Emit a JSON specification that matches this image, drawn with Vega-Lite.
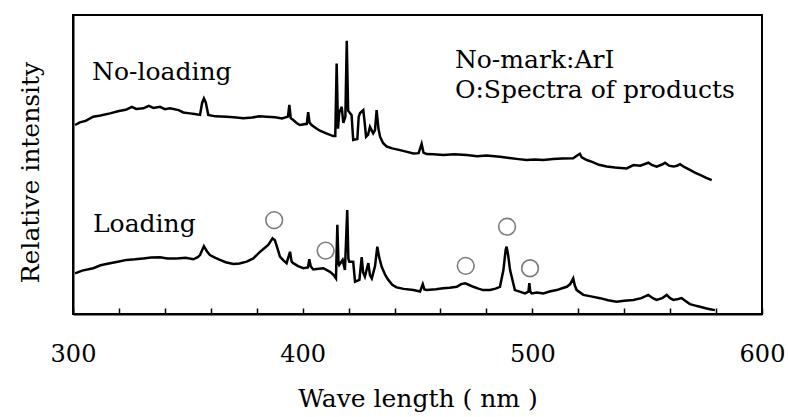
{
  "$schema": "https://vega.github.io/schema/vega-lite/v6.json",
  "width": 689,
  "height": 299,
  "autosize": "none",
  "padding": {"left": 73, "top": 15, "right": 26, "bottom": 103},
  "view": {"stroke": "black", "strokeWidth": 2},
  "datasets": {
    "spectra": [
      {"s":"No-loading","x":300.9,"y":63.2},{"s":"No-loading","x":303.0,"y":64.1},{"s":"No-loading","x":305.5,"y":64.6},{"s":"No-loading","x":308.8,"y":66.0},{"s":"No-loading","x":312.0,"y":66.4},{"s":"No-loading","x":316.1,"y":67.1},{"s":"No-loading","x":320.0,"y":67.9},{"s":"No-loading","x":323.0,"y":68.3},{"s":"No-loading","x":325.6,"y":69.3},{"s":"No-loading","x":327.5,"y":68.6},{"s":"No-loading","x":330.6,"y":68.8},{"s":"No-loading","x":333.0,"y":69.6},{"s":"No-loading","x":335.0,"y":68.9},{"s":"No-loading","x":337.9,"y":69.3},{"s":"No-loading","x":340.0,"y":68.5},{"s":"No-loading","x":342.2,"y":68.8},{"s":"No-loading","x":346.0,"y":68.2},{"s":"No-loading","x":348.0,"y":67.4},{"s":"No-loading","x":350.9,"y":67.1},{"s":"No-loading","x":353.0,"y":66.9},{"s":"No-loading","x":355.3,"y":66.6},{"s":"No-loading","x":356.2,"y":70.5},{"s":"No-loading","x":357.0,"y":72.1},{"s":"No-loading","x":357.8,"y":70.8},{"s":"No-loading","x":358.9,"y":66.6},{"s":"No-loading","x":362.0,"y":66.1},{"s":"No-loading","x":366.9,"y":66.0},{"s":"No-loading","x":370.0,"y":65.8},{"s":"No-loading","x":374.1,"y":65.5},{"s":"No-loading","x":378.0,"y":65.7},{"s":"No-loading","x":381.0,"y":66.1},{"s":"No-loading","x":384.3,"y":66.0},{"s":"No-loading","x":388.0,"y":65.8},{"s":"No-loading","x":391.0,"y":65.4},{"s":"No-loading","x":393.6,"y":66.0},{"s":"No-loading","x":394.2,"y":69.9},{"s":"No-loading","x":394.8,"y":65.5},{"s":"No-loading","x":395.9,"y":64.9},{"s":"No-loading","x":397.5,"y":63.8},{"s":"No-loading","x":398.8,"y":63.2},{"s":"No-loading","x":401.8,"y":63.6},{"s":"No-loading","x":402.4,"y":67.5},{"s":"No-loading","x":403.0,"y":64.0},{"s":"No-loading","x":403.9,"y":63.2},{"s":"No-loading","x":405.5,"y":62.3},{"s":"No-loading","x":407.5,"y":61.3},{"s":"No-loading","x":410.0,"y":60.5},{"s":"No-loading","x":413.3,"y":59.5},{"s":"No-loading","x":414.2,"y":59.5},{"s":"No-loading","x":414.8,"y":83.8},{"s":"No-loading","x":415.4,"y":62.0},{"s":"No-loading","x":415.9,"y":67.2},{"s":"No-loading","x":417.0,"y":69.3},{"s":"No-loading","x":417.7,"y":63.9},{"s":"No-loading","x":418.6,"y":66.0},{"s":"No-loading","x":419.2,"y":91.4},{"s":"No-loading","x":419.8,"y":68.0},{"s":"No-loading","x":420.6,"y":67.2},{"s":"No-loading","x":421.3,"y":66.5},{"s":"No-loading","x":422.0,"y":58.2},{"s":"No-loading","x":423.8,"y":58.5},{"s":"No-loading","x":424.4,"y":66.0},{"s":"No-loading","x":425.0,"y":67.2},{"s":"No-loading","x":426.4,"y":68.2},{"s":"No-loading","x":427.0,"y":64.0},{"s":"No-loading","x":427.6,"y":59.3},{"s":"No-loading","x":428.5,"y":60.0},{"s":"No-loading","x":429.3,"y":62.6},{"s":"No-loading","x":430.0,"y":61.5},{"s":"No-loading","x":430.7,"y":60.4},{"s":"No-loading","x":431.5,"y":61.5},{"s":"No-loading","x":432.2,"y":68.2},{"s":"No-loading","x":433.0,"y":62.0},{"s":"No-loading","x":433.7,"y":59.3},{"s":"No-loading","x":435.0,"y":57.2},{"s":"No-loading","x":436.6,"y":56.0},{"s":"No-loading","x":439.0,"y":55.4},{"s":"No-loading","x":442.4,"y":54.8},{"s":"No-loading","x":445.0,"y":54.3},{"s":"No-loading","x":448.2,"y":53.7},{"s":"No-loading","x":450.5,"y":53.8},{"s":"No-loading","x":451.8,"y":56.9},{"s":"No-loading","x":452.6,"y":54.0},{"s":"No-loading","x":454.0,"y":53.5},{"s":"No-loading","x":457.0,"y":53.4},{"s":"No-loading","x":461.2,"y":53.2},{"s":"No-loading","x":466.0,"y":53.4},{"s":"No-loading","x":471.4,"y":53.2},{"s":"No-loading","x":476.0,"y":52.8},{"s":"No-loading","x":480.0,"y":53.0},{"s":"No-loading","x":485.9,"y":52.6},{"s":"No-loading","x":490.0,"y":52.2},{"s":"No-loading","x":494.0,"y":51.8},{"s":"No-loading","x":497.5,"y":51.5},{"s":"No-loading","x":501.0,"y":51.7},{"s":"No-loading","x":504.8,"y":51.5},{"s":"No-loading","x":509.0,"y":51.8},{"s":"No-loading","x":513.0,"y":52.0},{"s":"No-loading","x":517.8,"y":52.1},{"s":"No-loading","x":519.5,"y":53.0},{"s":"No-loading","x":520.7,"y":53.6},{"s":"No-loading","x":521.5,"y":52.4},{"s":"No-loading","x":523.7,"y":51.5},{"s":"No-loading","x":526.0,"y":50.9},{"s":"No-loading","x":529.0,"y":49.9},{"s":"No-loading","x":532.4,"y":49.3},{"s":"No-loading","x":536.0,"y":49.0},{"s":"No-loading","x":541.1,"y":48.7},{"s":"No-loading","x":544.0,"y":49.8},{"s":"No-loading","x":547.0,"y":49.6},{"s":"No-loading","x":550.5,"y":50.6},{"s":"No-loading","x":552.0,"y":49.9},{"s":"No-loading","x":554.1,"y":49.3},{"s":"No-loading","x":556.5,"y":50.0},{"s":"No-loading","x":557.8,"y":50.6},{"s":"No-loading","x":559.5,"y":49.6},{"s":"No-loading","x":561.4,"y":49.3},{"s":"No-loading","x":563.0,"y":49.6},{"s":"No-loading","x":564.3,"y":50.1},{"s":"No-loading","x":566.5,"y":49.0},{"s":"No-loading","x":568.6,"y":48.2},{"s":"No-loading","x":571.0,"y":47.2},{"s":"No-loading","x":573.0,"y":46.5},{"s":"No-loading","x":575.5,"y":45.6},{"s":"No-loading","x":578.1,"y":44.8},
      {"s":"Loading","x":300.9,"y":13.6},{"s":"Loading","x":304.0,"y":14.5},{"s":"Loading","x":308.8,"y":15.3},{"s":"Loading","x":312.0,"y":16.3},{"s":"Loading","x":316.1,"y":17.0},{"s":"Loading","x":319.5,"y":17.5},{"s":"Loading","x":323.4,"y":18.1},{"s":"Loading","x":327.0,"y":18.3},{"s":"Loading","x":330.6,"y":18.6},{"s":"Loading","x":334.0,"y":18.9},{"s":"Loading","x":337.9,"y":19.0},{"s":"Loading","x":341.0,"y":18.6},{"s":"Loading","x":345.2,"y":18.6},{"s":"Loading","x":349.0,"y":18.8},{"s":"Loading","x":352.4,"y":18.3},{"s":"Loading","x":354.3,"y":19.0},{"s":"Loading","x":355.3,"y":19.7},{"s":"Loading","x":357.0,"y":22.7},{"s":"Loading","x":358.3,"y":21.0},{"s":"Loading","x":359.6,"y":19.7},{"s":"Loading","x":362.0,"y":18.8},{"s":"Loading","x":364.0,"y":18.1},{"s":"Loading","x":366.5,"y":17.3},{"s":"Loading","x":369.8,"y":16.7},{"s":"Loading","x":372.5,"y":16.9},{"s":"Loading","x":375.6,"y":17.5},{"s":"Loading","x":378.5,"y":18.6},{"s":"Loading","x":381.4,"y":20.8},{"s":"Loading","x":383.3,"y":22.0},{"s":"Loading","x":385.0,"y":23.1},{"s":"Loading","x":386.9,"y":25.3},{"s":"Loading","x":387.9,"y":24.7},{"s":"Loading","x":389.0,"y":22.0},{"s":"Loading","x":390.1,"y":19.2},{"s":"Loading","x":391.5,"y":18.0},{"s":"Loading","x":393.0,"y":17.0},{"s":"Loading","x":394.5,"y":20.8},{"s":"Loading","x":395.2,"y":17.5},{"s":"Loading","x":395.9,"y":17.0},{"s":"Loading","x":398.0,"y":16.0},{"s":"Loading","x":400.3,"y":15.3},{"s":"Loading","x":402.3,"y":15.6},{"s":"Loading","x":402.9,"y":18.3},{"s":"Loading","x":403.5,"y":16.0},{"s":"Loading","x":404.6,"y":14.9},{"s":"Loading","x":407.0,"y":15.1},{"s":"Loading","x":409.0,"y":15.3},{"s":"Loading","x":411.9,"y":14.1},{"s":"Loading","x":413.5,"y":13.0},{"s":"Loading","x":414.5,"y":11.9},{"s":"Loading","x":415.1,"y":29.8},{"s":"Loading","x":415.6,"y":17.0},{"s":"Loading","x":415.9,"y":16.4},{"s":"Loading","x":417.4,"y":18.1},{"s":"Loading","x":418.4,"y":14.7},{"s":"Loading","x":419.4,"y":34.8},{"s":"Loading","x":419.9,"y":18.5},{"s":"Loading","x":420.3,"y":17.5},{"s":"Loading","x":422.0,"y":17.5},{"s":"Loading","x":422.8,"y":10.8},{"s":"Loading","x":424.7,"y":11.4},{"s":"Loading","x":425.7,"y":19.0},{"s":"Loading","x":426.3,"y":14.0},{"s":"Loading","x":427.1,"y":12.5},{"s":"Loading","x":428.6,"y":17.0},{"s":"Loading","x":429.3,"y":13.0},{"s":"Loading","x":430.1,"y":11.9},{"s":"Loading","x":431.5,"y":16.0},{"s":"Loading","x":432.5,"y":22.5},{"s":"Loading","x":433.3,"y":19.0},{"s":"Loading","x":434.4,"y":15.8},{"s":"Loading","x":436.0,"y":13.0},{"s":"Loading","x":437.3,"y":11.4},{"s":"Loading","x":439.0,"y":9.8},{"s":"Loading","x":440.9,"y":8.9},{"s":"Loading","x":444.0,"y":8.4},{"s":"Loading","x":448.2,"y":8.0},{"s":"Loading","x":451.1,"y":7.5},{"s":"Loading","x":452.3,"y":10.0},{"s":"Loading","x":453.0,"y":8.2},{"s":"Loading","x":454.0,"y":8.0},{"s":"Loading","x":458.0,"y":8.3},{"s":"Loading","x":461.2,"y":8.6},{"s":"Loading","x":464.0,"y":8.8},{"s":"Loading","x":467.1,"y":9.1},{"s":"Loading","x":469.0,"y":10.0},{"s":"Loading","x":470.7,"y":10.3},{"s":"Loading","x":472.5,"y":9.7},{"s":"Loading","x":474.3,"y":9.1},{"s":"Loading","x":476.5,"y":8.5},{"s":"Loading","x":478.6,"y":8.0},{"s":"Loading","x":481.6,"y":8.0},{"s":"Loading","x":484.0,"y":8.5},{"s":"Loading","x":485.9,"y":9.1},{"s":"Loading","x":487.4,"y":14.7},{"s":"Loading","x":488.4,"y":21.5},{"s":"Loading","x":488.8,"y":22.5},{"s":"Loading","x":489.4,"y":20.0},{"s":"Loading","x":490.3,"y":14.7},{"s":"Loading","x":492.4,"y":8.0},{"s":"Loading","x":494.5,"y":7.5},{"s":"Loading","x":496.8,"y":6.9},{"s":"Loading","x":498.3,"y":7.5},{"s":"Loading","x":498.7,"y":10.3},{"s":"Loading","x":499.1,"y":7.5},{"s":"Loading","x":499.7,"y":6.9},{"s":"Loading","x":502.0,"y":7.2},{"s":"Loading","x":504.8,"y":6.9},{"s":"Loading","x":507.5,"y":7.5},{"s":"Loading","x":510.6,"y":8.0},{"s":"Loading","x":513.0,"y":8.6},{"s":"Loading","x":515.0,"y":9.1},{"s":"Loading","x":516.5,"y":10.0},{"s":"Loading","x":517.8,"y":11.9},{"s":"Loading","x":518.5,"y":9.5},{"s":"Loading","x":519.3,"y":8.0},{"s":"Loading","x":522.2,"y":6.4},{"s":"Loading","x":525.5,"y":5.9},{"s":"Loading","x":529.5,"y":5.3},{"s":"Loading","x":533.0,"y":4.6},{"s":"Loading","x":536.7,"y":4.1},{"s":"Loading","x":540.0,"y":4.4},{"s":"Loading","x":544.0,"y":4.7},{"s":"Loading","x":547.5,"y":5.3},{"s":"Loading","x":550.5,"y":6.4},{"s":"Loading","x":552.5,"y":5.3},{"s":"Loading","x":554.1,"y":4.7},{"s":"Loading","x":556.5,"y":5.3},{"s":"Loading","x":558.5,"y":6.4},{"s":"Loading","x":560.0,"y":5.3},{"s":"Loading","x":561.4,"y":4.7},{"s":"Loading","x":563.5,"y":5.0},{"s":"Loading","x":565.0,"y":5.3},{"s":"Loading","x":567.0,"y":4.2},{"s":"Loading","x":568.6,"y":3.3},{"s":"Loading","x":571.0,"y":2.8},{"s":"Loading","x":573.0,"y":2.4},{"s":"Loading","x":575.5,"y":1.9},{"s":"Loading","x":577.4,"y":1.6},{"s":"Loading","x":579.5,"y":1.3}
    ],
    "products": [
      {"x": 387.6, "y": 31.4},
      {"x": 410.0, "y": 21.2},
      {"x": 471.0, "y": 16.1},
      {"x": 489.0, "y": 29.2},
      {"x": 499.0, "y": 15.3}
    ],
    "labels": [
      {"x": 308.3, "y": 78.3, "t": "No-loading"},
      {"x": 308.7, "y": 27.4, "t": "Loading"},
      {"x": 466.3, "y": 82.3, "t": "No-mark:ArI"},
      {"x": 466.3, "y": 72.2, "t": "O:Spectra of products"}
    ]
  },
  "layer": [
    {
      "data": {"name": "spectra"},
      "mark": {"type": "line", "color": "black", "strokeWidth": 2.5, "strokeJoin": "miter"},
      "encoding": {
        "x": {
          "field": "x", "type": "quantitative",
          "scale": {"domain": [300, 600], "nice": false, "zero": false},
          "axis": {
            "values": [300,320,340,360,380,400,420,440,460,480,500,520,540,560,580,600],
            "labelExpr": "datum.value % 100 === 0 ? datum.label : ''",
            "grid": false,
            "tickSize": -6,
            "tickColor": "black",
            "tickWidth": 1.5,
            "domainColor": "black",
            "domainWidth": 2,
            "labelFont": "DejaVu Serif",
            "labelFontSize": 24,
            "labelColor": "black",
            "labelPadding": 34,
            "labelFlush": false,
            "labelOverlap": false,
            "title": "Wave length ( nm )",
            "titleFont": "DejaVu Serif",
            "titleFontSize": 25,
            "titleFontWeight": "normal",
            "titleColor": "black",
            "titlePadding": 20
          }
        },
        "y": {
          "field": "y", "type": "quantitative",
          "scale": {"domain": [0, 100], "nice": false},
          "axis": {
            "ticks": false,
            "labels": false,
            "grid": false,
            "domainColor": "black",
            "domainWidth": 2,
            "title": "Relative intensity",
            "titleFont": "DejaVu Serif",
            "titleFontSize": 25,
            "titleFontWeight": "normal",
            "titleColor": "black",
            "titlePadding": 30,
            "titleY": 157
          }
        },
        "detail": {"field": "s", "type": "nominal"}
      }
    },
    {
      "data": {"name": "products"},
      "mark": {"type": "point", "shape": "circle", "filled": false, "size": 280, "stroke": "#444444", "strokeWidth": 1.6},
      "encoding": {
        "x": {"field": "x", "type": "quantitative"},
        "y": {"field": "y", "type": "quantitative"}
      }
    },
    {
      "data": {"name": "labels"},
      "mark": {"type": "text", "align": "left", "baseline": "alphabetic", "fontSize": 25, "color": "black", "font": "DejaVu Serif"},
      "encoding": {
        "x": {"field": "x", "type": "quantitative"},
        "y": {"field": "y", "type": "quantitative"},
        "text": {"field": "t"}
      }
    }
  ]
}
